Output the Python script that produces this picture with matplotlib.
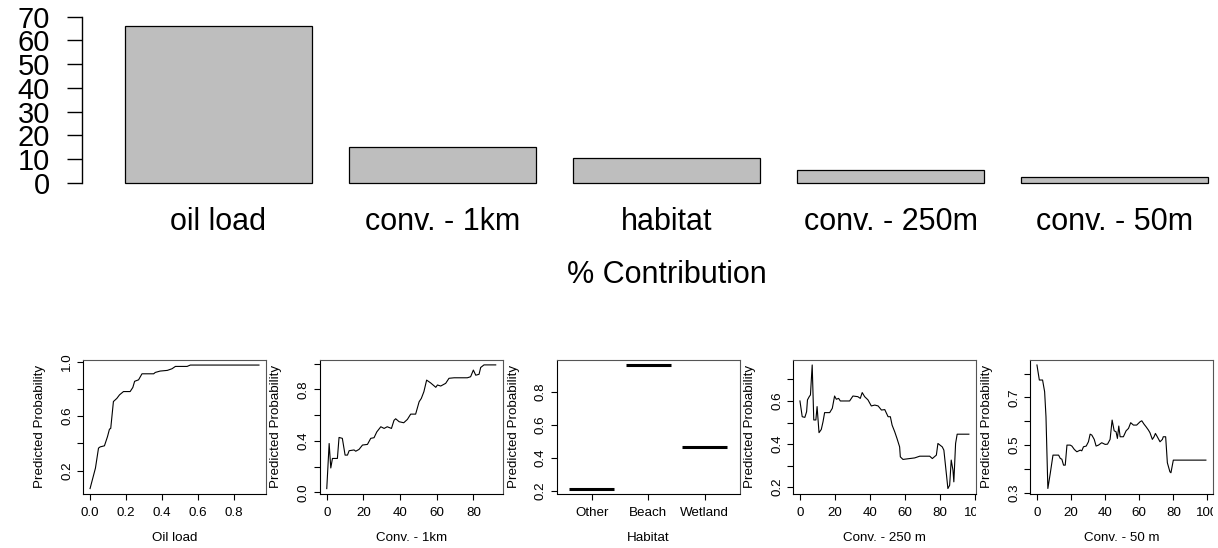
import matplotlib
matplotlib.use("Agg")
import matplotlib.pyplot as plt
from matplotlib import transforms
from matplotlib.transforms import Bbox, TransformedBbox

W, H = 1218, 548
plt.rcParams["font.family"] = ["Liberation Sans", "DejaVu Sans"]

# ── relative contribution (top) ───────────────────────────────────────────────
var_names = ["oil load", "conv. - 1km", "habitat", "conv. - 250m", "conv. - 50m"]
contrib   = [66.1, 15.3, 10.4, 5.5, 2.5]

# ── partial dependence curves (bottom) ───────────────────────────────────────
oil_x = [0, 0.03, 0.047, 0.056, 0.08, 0.097, 0.108, 0.115, 0.13, 0.149, 0.164,
         0.186, 0.223, 0.238, 0.248, 0.27, 0.289, 0.354, 0.363, 0.39, 0.43,
         0.456, 0.475, 0.54, 0.558, 0.94]
oil_y = [0.07, 0.22, 0.366, 0.375, 0.383, 0.45, 0.505, 0.51, 0.707, 0.73, 0.756,
         0.78, 0.78, 0.81, 0.855, 0.866, 0.91, 0.91, 0.92, 0.93, 0.935,
         0.947, 0.964, 0.964, 0.974, 0.974]

km1_x = [0, 1.3, 2.2, 3.1, 5.8, 6.7, 8.5, 10, 11.3, 12.2, 14.9, 15.8, 17.6, 19.5,
         22.2, 24, 25.8, 27.3, 29.5, 31.3, 33, 35.3, 36.7, 37.6, 39.5, 42, 44,
         45.8, 48.5, 50.4, 51.6, 53, 54.5, 56.7, 59.5, 60.4, 62.2, 64.9, 66.7,
         69.5, 76.7, 78.5, 80, 81.3, 83.1, 84, 85.8, 92.2]
km1_y = [0.03, 0.38, 0.19, 0.264, 0.264, 0.427, 0.42, 0.29, 0.29, 0.324, 0.33,
         0.32, 0.334, 0.368, 0.373, 0.42, 0.425, 0.47, 0.51, 0.497, 0.51, 0.497,
         0.56, 0.572, 0.549, 0.541, 0.567, 0.608, 0.608, 0.704, 0.73, 0.782,
         0.872, 0.85, 0.816, 0.834, 0.826, 0.847, 0.886, 0.89, 0.89, 0.898,
         0.95, 0.91, 0.917, 0.97, 0.99, 0.99]

hab_levels = ["Other", "Beach", "Wetland"]
hab_y      = [0.216, 0.96, 0.468]

m250_x = [0, 1.3, 2.8, 3.8, 4.3, 5.3, 6.0, 7.0, 7.9, 9.1, 9.8, 10.9, 12.2, 13.2,
          14.1, 17, 18.5, 19.8, 20.8, 22.1, 23.1, 28.4, 30.3, 33.1, 34.5, 35.6,
          37, 38.9, 40.8, 42.8, 44.7, 46.6, 48.5, 50.4, 51.7, 52.7, 54.2, 55.5,
          57.0, 57.4, 58.9, 62.7, 65.6, 68.5, 74.2, 75.7, 78.0, 78.9, 81.4,
          82.3, 83.7, 84.6, 85.6, 86.5, 87.5, 88.0, 89.0, 89.9, 96.6]
m250_y = [0.60, 0.527, 0.524, 0.55, 0.605, 0.62, 0.628, 0.767, 0.512, 0.512,
          0.574, 0.453, 0.468, 0.504, 0.546, 0.546, 0.566, 0.623, 0.608, 0.612,
          0.60, 0.60, 0.623, 0.62, 0.612, 0.639, 0.62, 0.605, 0.577, 0.581,
          0.577, 0.558, 0.56, 0.527, 0.527, 0.488, 0.457, 0.426, 0.387, 0.341,
          0.329, 0.333, 0.336, 0.344, 0.344, 0.333, 0.349, 0.403, 0.387, 0.372,
          0.264, 0.194, 0.209, 0.326, 0.279, 0.225, 0.403, 0.446, 0.446]

m50_x = [0, 1.4, 3.3, 4.5, 5.3, 6.4, 7.8, 9.4, 12.7, 13.7, 14.6, 15.6, 16.6,
         17.6, 19.5, 20.5, 21.9, 23.4, 25.4, 26.3, 27.3, 28.9, 30.2, 31.2, 32.2,
         33.6, 34.7, 36.1, 38, 40, 41.4, 42.9, 44.1, 45.3, 46.4, 47.2, 48, 48.8,
         50.7, 52.3, 53.7, 55, 56.6, 58.5, 60.5, 61.5, 62.8, 64, 65.4, 66.3,
         67.7, 68.7, 69.5, 70.6, 72.2, 73.6, 74.1, 75.5, 76.5, 78, 78.6, 80, 99.1]
m50_y = [0.836, 0.773, 0.773, 0.724, 0.619, 0.318, 0.381, 0.458, 0.458, 0.444,
         0.441, 0.416, 0.416, 0.5, 0.5, 0.496, 0.482, 0.472, 0.479, 0.476, 0.493,
         0.496, 0.514, 0.546, 0.542, 0.524, 0.496, 0.5, 0.51, 0.503, 0.504,
         0.524, 0.605, 0.56, 0.556, 0.528, 0.58, 0.535, 0.535, 0.56, 0.57,
         0.594, 0.584, 0.584, 0.598, 0.602, 0.588, 0.577, 0.563, 0.552, 0.524,
         0.535, 0.549, 0.535, 0.514, 0.524, 0.535, 0.535, 0.426, 0.388, 0.384,
         0.437, 0.437]

fig = plt.figure(figsize=(W / 100, H / 100), dpi=100)


def px_axes(left, top, right, bottom):
    """Axes placed by pixel edges measured from the top-left corner."""
    return fig.add_axes([left / W, (H - bottom) / H,
                         (right - left) / W, (bottom - top) / H])


# ── top: barplot ─────────────────────────────────────────────────────────────
ax = px_axes(81.7, 16.7, 1251.3, 183)
bar_x = [0.7 + 1.2 * i for i in range(len(contrib))]
bars = ax.bar(bar_x, contrib, width=1.0, color="#bebebe",
              edgecolor="black", linewidth=0.9)
for b in bars:
    b.set_clip_on(False)
ax.set_xlim(-0.032, 6.232)
ax.set_ylim(0, 70)
for s in ["top", "right", "bottom"]:
    ax.spines[s].set_visible(False)
ax.spines["left"].set_bounds(0, 70)
ax.spines["left"].set_linewidth(1.0)
ax.set_yticks(range(0, 71, 10))
ax.tick_params(axis="y", length=10.8, width=1.0, pad=12, labelsize=21)
ax.set_xticks([])
ax.patch.set_visible(False)

trans = transforms.blended_transform_factory(ax.transData, fig.transFigure)
for x, name in zip(bar_x, var_names):
    ax.text(x, (H - 230.5) / H, name, transform=trans, ha="center",
            va="baseline", fontsize=22)
fig.text((81.7 + 1251.3) / 2 / W, (H - 283.3) / H, "% Contribution",
         ha="center", va="baseline", fontsize=22)

# ── bottom: partial dependence panels ───────────────────────────────────────
FS = 9.6
P_TOP, P_BOT, P_W = 360, 493.5, 182.5
lefts = [83.3, 320.0, 557.0, 793.2, 1030.2]


def panel(i, xlim, ylim, yticks, ylabels, xlabel):
    a = px_axes(lefts[i], P_TOP, lefts[i] + P_W, P_BOT)
    a.set_xlim(*xlim)
    a.set_ylim(*ylim)
    for s in ["top", "right"]:
        a.spines[s].set_color("#555555")
    for s in a.spines.values():
        s.set_linewidth(0.8)
    a.set_yticks(yticks, ylabels)
    a.tick_params(axis="both", length=4.1, width=0.8, labelsize=FS)
    a.tick_params(axis="y", labelrotation=90, pad=3.2)
    a.tick_params(axis="x", pad=5.5)
    for lab in a.get_yticklabels():
        lab.set_va("center")
    a.set_ylabel("Predicted Probability", fontsize=FS)
    a.yaxis.set_label_coords(-43.5 / P_W, 0.5)
    a.yaxis.label.set_va("center")
    a.set_xlabel(xlabel, fontsize=FS)
    a.xaxis.set_label_coords(0.5, -44.5 / (P_BOT - P_TOP))
    a.xaxis.label.set_va("center")
    return a


def clip_labels(a, right_px):
    box = TransformedBbox(Bbox.from_extents(0, 0, right_px / W, 1), fig.transFigure)
    for lab in a.get_xticklabels():
        lab.set_clip_box(box)
        lab.set_clip_on(True)


a1 = panel(0, (-0.0376, 0.978), (0.034, 1.011),
           [0.2, 0.4, 0.6, 0.8, 1.0], ["0.2", "", "0.6", "", "1.0"], "Oil load")
a1.set_xticks([0.0, 0.2, 0.4, 0.6, 0.8])
a1.plot(oil_x, oil_y, color="black", linewidth=0.8)

a2 = panel(1, (-3.69, 95.9), (-0.008, 1.028),
           [0.0, 0.2, 0.4, 0.6, 0.8, 1.0], ["0.0", "", "0.4", "", "0.8", ""],
           "Conv. - 1km")
a2.set_xticks([0, 20, 40, 60, 80])
a2.plot(km1_x, km1_y, color="black", linewidth=0.8)

a3 = panel(2, (0.38, 3.62), (0.186, 0.99),
           [0.2, 0.4, 0.6, 0.8], ["0.2", "0.4", "0.6", "0.8"], "Habitat")
hab_pos = list(range(1, len(hab_levels) + 1))
a3.set_xticks(hab_pos, hab_levels)
a3.hlines(hab_y, [p - 0.4 for p in hab_pos], [p + 0.4 for p in hab_pos],
          color="black", linewidth=2.2)

a4 = panel(3, (-3.86, 100.5), (0.171, 0.790),
           [0.2, 0.3, 0.4, 0.5, 0.6, 0.7], ["0.2", "", "0.4", "", "0.6", ""],
           "Conv. - 250 m")
a4.set_xticks([0, 20, 40, 60, 80, 100])
a4.plot(m250_x, m250_y, color="black", linewidth=0.8)
clip_labels(a4, 976)

a5 = panel(4, (-3.96, 103.1), (0.297, 0.857),
           [0.3, 0.4, 0.5, 0.6, 0.7, 0.8], ["0.3", "", "0.5", "", "0.7", ""],
           "Conv. - 50 m")
a5.set_xticks([0, 20, 40, 60, 80, 100])
a5.plot(m50_x, m50_y, color="black", linewidth=0.8)
clip_labels(a5, 1213)

fig.savefig("out.png", dpi=100)
